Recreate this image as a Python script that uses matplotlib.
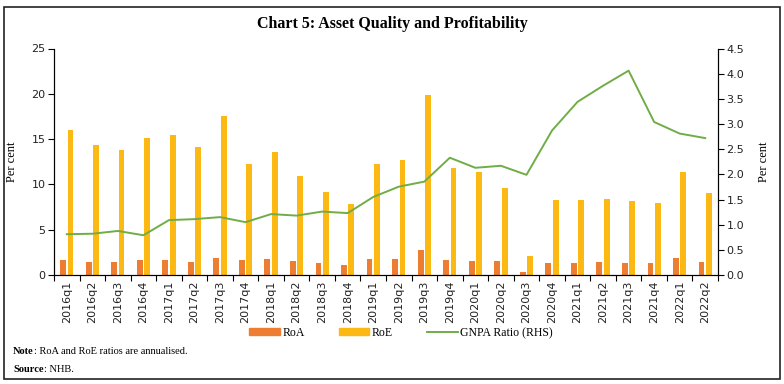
import matplotlib
matplotlib.use("Agg")
import matplotlib.pyplot as plt
import numpy as np
from matplotlib.patches import Patch, Rectangle
from matplotlib.lines import Line2D
from matplotlib.offsetbox import TextArea, HPacker, AnchoredOffsetbox

quarters = ["2016q1", "2016q2", "2016q3", "2016q4", "2017q1", "2017q2", "2017q3", "2017q4",
            "2018q1", "2018q2", "2018q3", "2018q4", "2019q1", "2019q2", "2019q3", "2019q4",
            "2020q1", "2020q2", "2020q3", "2020q4", "2021q1", "2021q2", "2021q3", "2021q4",
            "2022q1", "2022q2"]
roa = [1.62, 1.40, 1.40, 1.62, 1.62, 1.44, 1.84, 1.62, 1.80, 1.50, 1.29, 1.10, 1.73, 1.82,
       2.80, 1.69, 1.58, 1.51, 0.33, 1.36, 1.32, 1.40, 1.36, 1.32, 1.84, 1.47]
roe = [16.0, 14.36, 13.84, 15.17, 15.5, 14.17, 17.6, 12.26, 13.55, 10.9, 9.2, 7.84, 12.22, 12.73,
       19.9, 11.77, 11.4, 9.64, 2.13, 8.28, 8.28, 8.39, 8.17, 7.98, 11.4, 9.0]
gnpa = [0.81, 0.82, 0.875, 0.79, 1.09, 1.11, 1.15, 1.05, 1.21, 1.18, 1.26, 1.23, 1.55, 1.755,
        1.855, 2.33, 2.13, 2.17, 1.99, 2.87, 3.44, 3.76, 4.06, 3.04, 2.81, 2.72]
left_ticks = [0, 5, 10, 15, 20, 25]
right_ticks = [0.0, 0.5, 1.0, 1.5, 2.0, 2.5, 3.0, 3.5, 4.0, 4.5]

SERIF = "Liberation Serif"
SANS = "DejaVu Sans"
C_ROA = "#ED7D31"
C_ROE = "#FDB913"
C_GNPA = "#70AD47"

fig = plt.figure(figsize=(7.84, 3.84), dpi=100)
ax = fig.add_axes([54/784, 1-275/384, (718-54)/784, (275-48.5)/384])
ax2 = ax.twinx()

x = np.arange(len(quarters))
w = 0.23
ax.bar(x - 0.145, roa, width=w, color=C_ROA, zorder=2)
ax.bar(x + 0.145, roe, width=w, color=C_ROE, zorder=2)
ax2.plot(x, gnpa, color=C_GNPA, lw=1.4, zorder=3)

ax.set_xlim(-0.5, len(quarters) - 0.5)
ax.set_ylim(0, 25)
ax2.set_ylim(0, 4.5)
ax.set_yticks(left_ticks)
ax.set_yticklabels([str(t) for t in left_ticks], fontfamily=SANS, fontsize=8, color="#222222")
ax2.set_yticks(right_ticks)
ax2.set_yticklabels([f"{t:.1f}" for t in right_ticks], fontfamily=SANS, fontsize=8, color="#222222")

ax.set_xticks(x)
ax.set_xticklabels(quarters, rotation=90, fontfamily=SANS, fontsize=8, color="#222222")
ax.set_xticks(np.arange(-0.5, len(quarters), 1.0), minor=True)
ax.tick_params(axis="x", which="major", length=0, pad=4)
ax.tick_params(axis="x", which="minor", length=4, direction="out", width=0.8)
ax.tick_params(axis="y", length=4, width=0.8, pad=2)
ax2.tick_params(axis="y", length=4, width=0.8, pad=2)

for a in (ax, ax2):
    a.spines["top"].set_visible(False)
    a.spines["left"].set_linewidth(0.8)
    a.spines["right"].set_linewidth(0.8)
    a.spines["bottom"].set_linewidth(0.8)

ax.set_ylabel("Per cent", fontfamily=SERIF, fontsize=9, labelpad=10)
ax2.set_ylabel("Per cent", fontfamily=SERIF, fontsize=9, labelpad=10, rotation=90)

fig.text(0.5, 1-24/384, "Chart 5: Asset Quality and Profitability", ha="center", va="center",
         fontfamily=SERIF, fontweight="bold", fontsize=11.5)

handles = [Patch(color=C_ROA, label="RoA"), Patch(color=C_ROE, label="RoE"),
           Line2D([0], [0], color=C_GNPA, lw=1.4, label="GNPA Ratio (RHS)")]
fig.legend(handles=handles, loc="center", bbox_to_anchor=(401/784, 1-333/384), ncol=3,
           frameon=False, prop={"family": SERIF, "size": 8.5}, handlelength=2.6,
           handleheight=0.55, columnspacing=2.9, handletextpad=0.2)


def note_line(bold, rest, ypix):
    tb = TextArea(bold, textprops=dict(fontfamily=SERIF, fontweight="bold", fontsize=7.5))
    tr = TextArea(rest, textprops=dict(fontfamily=SERIF, fontsize=7.5))
    box = HPacker(children=[tb, tr], align="baseline", pad=0, sep=0)
    anch = AnchoredOffsetbox(loc="center left", child=box, pad=0, frameon=False,
                             bbox_to_anchor=(13/784, 1-ypix/384), bbox_transform=fig.transFigure,
                             borderpad=0)
    fig.add_artist(anch)


note_line("Note", ": RoA and RoE ratios are annualised.", 351)
note_line("Source", ": NHB.", 369)

fig.patches.append(Rectangle((4/784, 1-379/384), 776/784, 372/384, transform=fig.transFigure,
                             fill=False, edgecolor="#222222", lw=1.2))

fig.savefig("out.png", dpi=100)
